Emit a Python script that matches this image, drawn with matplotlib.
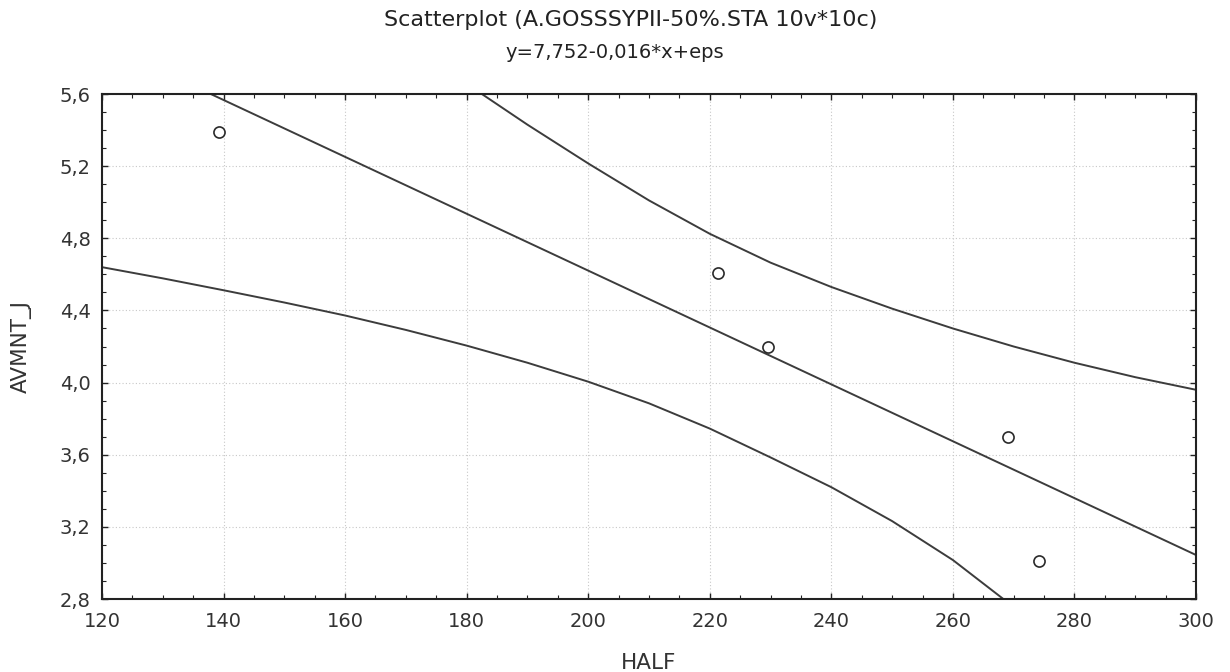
## scatterplot with regression line and confidence bands
import matplotlib
matplotlib.use("Agg")
import matplotlib.pyplot as plt
from matplotlib.ticker import MultipleLocator, FuncFormatter

plt.rcParams['font.family'] = ['DejaVu Sans']

## observed cases (HALF, AVMNT_J)
half = [139.3, 221.4, 229.5, 269.1, 274.1]
avmnt = [5.39, 4.61, 4.20, 3.70, 3.01]

## fitted line, read at its two visible ends
line_x = [137.9, 300.0]
line_y = [5.600, 3.044]

## upper 95% band
upper_x = [182.5, 190.0, 200.0, 210.0, 220.0, 230.0, 240.0, 250.0, 260.0, 270.0, 280.0, 290.0, 300.0]
upper_y = [5.600, 5.430, 5.215, 5.010, 4.825, 4.665, 4.530, 4.410, 4.300, 4.200, 4.110, 4.030, 3.960]

## lower 95% band
lower_x = [120.0, 130.0, 140.0, 150.0, 160.0, 170.0, 180.0, 190.0, 200.0, 210.0, 220.0, 230.0, 240.0, 250.0, 260.0, 268.3]
lower_y = [4.640, 4.578, 4.512, 4.444, 4.372, 4.292, 4.205, 4.110, 4.005, 3.885, 3.745, 3.585, 3.420, 3.232, 3.016, 2.800]

line_col = "#3c3c3c"

fig = plt.figure(figsize=(12.3, 6.72), dpi=100)
ax = fig.add_axes([0.0829, 0.1086, 0.8895, 0.7515])

ax.plot(line_x, line_y, color=line_col, lw=1.4)
ax.plot(upper_x, upper_y, color=line_col, lw=1.4)
ax.plot(lower_x, lower_y, color=line_col, lw=1.4)
ax.plot(half, avmnt, linestyle="none", marker="o", markersize=8,
        markerfacecolor="none", markeredgecolor="#2a2a2a", markeredgewidth=1.2)

ax.set_xlim(120, 300)
ax.set_ylim(2.8, 5.6)
ax.xaxis.set_major_locator(MultipleLocator(20))
ax.xaxis.set_minor_locator(MultipleLocator(5))
ax.yaxis.set_major_locator(MultipleLocator(0.4))
ax.yaxis.set_minor_locator(MultipleLocator(0.1))
ax.yaxis.set_major_formatter(FuncFormatter(lambda v, p: ("%.1f" % v).replace(".", ",")))

ax.grid(True, which="major", color="#c8c8c8", linestyle=(0, (1, 2)), linewidth=0.8)
ax.tick_params(which="both", direction="in", top=True, right=True, color="#222222")
ax.tick_params(which="major", length=4, width=1, labelsize=14, labelcolor="#333333")
ax.tick_params(axis="x", which="major", pad=9)
ax.tick_params(axis="y", which="major", pad=8)
ax.tick_params(which="minor", length=3, width=0.8)
for s in ax.spines.values():
    s.set_linewidth(1.5)
    s.set_color("#222222")

ax.set_xlabel("HALF", fontsize=15.5, labelpad=16, color="#333333")
ax.set_ylabel("AVMNT_J", fontsize=15.5, labelpad=20, color="#333333")

fig.text(631 / 1230, 1 - 20 / 672, "Scatterplot (A.GOSSSYPII-50%.STA 10v*10c)",
         ha="center", va="center", fontsize=16, color="#222222")
fig.text(615 / 1230, 1 - 53 / 672, "y=7,752-0,016*x+eps",
         ha="center", va="center", fontsize=14, color="#222222")

fig.savefig("out.png", dpi=100)
